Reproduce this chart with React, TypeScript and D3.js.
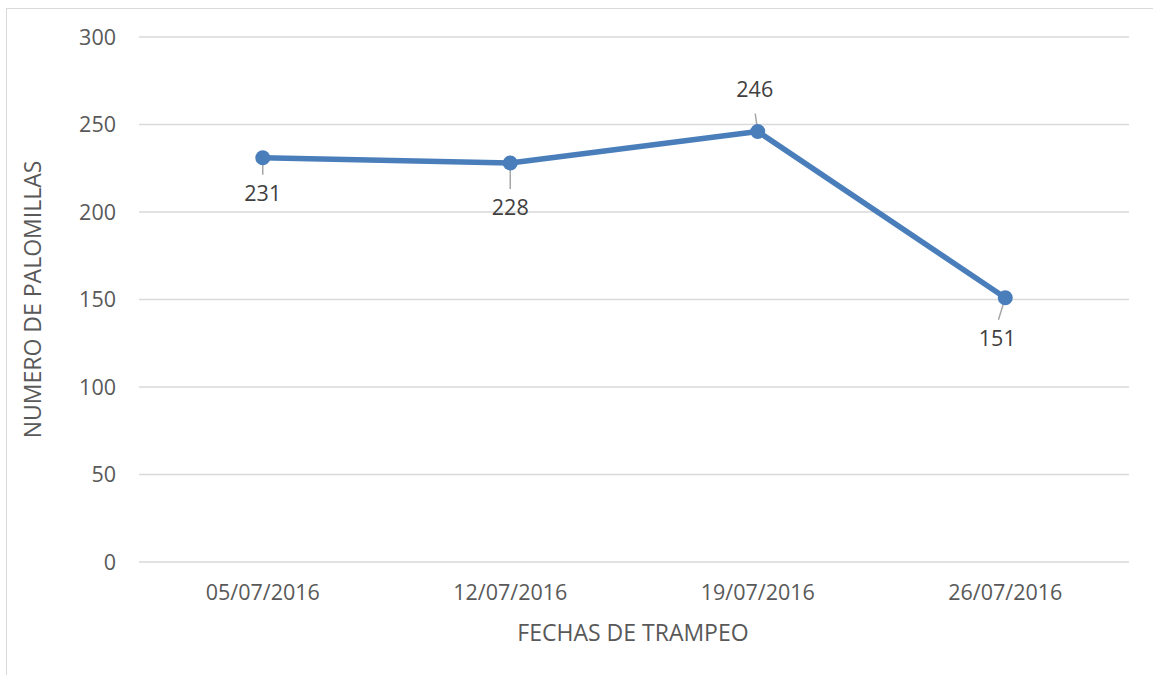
import * as d3 from 'd3';
import React from 'react';

const fechas = ['05/07/2016', '12/07/2016', '19/07/2016', '26/07/2016'];
const palomillas = [231, 228, 246, 151];
const yTicks = [0, 50, 100, 150, 200, 250, 300];
// label placement relative to the point: [dx, dy]
const labelOffsets: [number, number][] = [[0, 43], [0, 52], [-3, -35], [-8, 48]];

const W = 1153;
const H = 675;
const margin = { left: 139, right: 24, top: 37, bottom: 113 };
const FONT = '"Open Sans", sans-serif';

function LineChart() {
  const x = d3.scalePoint<string>()
    .domain(fechas)
    .range([margin.left, W - margin.right])
    .padding(0.5);
  const y = d3.scaleLinear()
    .domain([0, 300])
    .range([H - margin.bottom, margin.top]);

  const line = d3.line<number>()
    .x((d, i) => x(fechas[i])!)
    .y(d => y(d));

  return (
    <svg width={W} height={H} style={{ display: 'block' }}>
      <rect x={0} y={0} width={W} height={H} fill="#fff" />
      <rect x={6.5} y={8.5} width={W + 10} height={H + 10} fill="none" stroke="#d9d9d9" strokeWidth={1} />
      {yTicks.map(t => (
        <g key={t}>
          <line x1={margin.left} x2={W - margin.right} y1={y(t)} y2={y(t)} stroke="#d9d9d9" strokeWidth={1.3} />
          <text x={116} y={y(t)} dy="0.36em" textAnchor="end" fontFamily={FONT} fontSize={21.5} fill="#595959">{t}</text>
        </g>
      ))}
      {fechas.map(f => (
        <text key={f} x={x(f)} y={600} textAnchor="middle" fontFamily={FONT} fontSize={21.5} fill="#595959">{f}</text>
      ))}
      <text x={633} y={641} textAnchor="middle" fontFamily={FONT} fontSize={23} fill="#595959">FECHAS DE TRAMPEO</text>
      <text transform={`translate(41, ${(y(0) + y(300)) / 2}) rotate(-90)`} textAnchor="middle" fontFamily={FONT} fontSize={23} fill="#595959">NUMERO DE PALOMILLAS</text>
      {palomillas.map((v, i) => {
        const px = x(fechas[i])!;
        const py = y(v);
        const [dx, dy] = labelOffsets[i];
        const below = dy > 0;
        const lx = px + dx;
        const ly = py + dy;
        const endY = below ? ly - 26 : ly + 17;
        return (
          <g key={i}>
            <line x1={px} y1={py} x2={px + dx * 0.85} y2={endY} stroke="#a6a6a6" strokeWidth={1.5} />
            <text x={lx} y={ly} textAnchor="middle" fontFamily={FONT} fontSize={21.5} fill="#404040">{v}</text>
          </g>
        );
      })}
      <path d={line(palomillas)!} fill="none" stroke="#4a7ebb" strokeWidth={5.5} strokeLinejoin="round" />
      {palomillas.map((v, i) => (
        <circle key={i} cx={x(fechas[i])!} cy={y(v)} r={7.5} fill="#4a7ebb" />
      ))}
    </svg>
  );
}

export default function App() {
  return (
    <div style={{ position: 'absolute', left: 0, top: 0 }}>
      <LineChart />
    </div>
  );
}
